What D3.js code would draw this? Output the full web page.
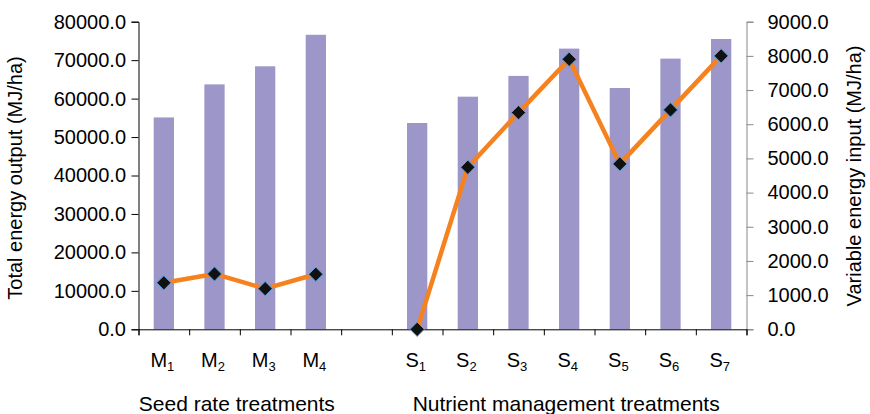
<!DOCTYPE html>
<html>
<head>
<meta charset="utf-8">
<script src="https://cdn.jsdelivr.net/npm/d3@7"></script>
<style>
body{margin:0;background:#fff;}
svg{display:block;font-family:"Liberation Sans",Arial,sans-serif;}
</style>
</head>
<body>
<div id="chart"></div>
<script>
(function(){

// categories (empty slot = gap between the two treatment groups)
const categories = ["M1","M2","M3","M4","","S1","S2","S3","S4","S5","S6","S7"];
const groups = [
  {label:"Seed rate treatments", from:"M1", to:"M4"},
  {label:"Nutrient management treatments", from:"S1", to:"S7"}
];
const totalOutput   = [55100,63700,68400,76600,null,53650,60500,65900,73000,62750,70400,75500];
const variableInput = [1360,1620,1190,1610,null,0,4740,6340,7900,4840,6420,8000];
const leftTicks  = d3.range(0,80001,10000);
const rightTicks = d3.range(0,9001,1000);

const width = 870;
const height = 414;
const margin = {top:21.7,right:123.5,bottom:84.7,left:138.5};

const svg = d3.select("#chart")
.append("svg")
.attr("width",width)
.attr("height",height);

const data = categories.map((c,i)=>({cat:c||"gap"+i, label:c, out:totalOutput[i], inp:variableInput[i]}));

const x = d3.scaleBand()
.domain(data.map(d=>d.cat))
.range([margin.left,width-margin.right])
.padding(0);

const xi = d3.scaleLinear()
.domain([0,categories.length])
.range([margin.left,width-margin.right]);

const yL = d3.scaleLinear()
.domain([0,80000])
.range([height-margin.bottom,margin.top]);

const yR = d3.scaleLinear()
.domain([0,9000])
.range([height-margin.bottom,margin.top]);

// bars
const bw = x.bandwidth()*0.4;
svg.selectAll("rect.bar")
.data(data.filter(d=>d.out!=null))
.enter()
.append("rect")
.attr("class","bar")
.attr("x",d=>x(d.cat)+x.bandwidth()/2-bw/2)
.attr("y",d=>yL(d.out))
.attr("width",bw)
.attr("height",d=>yL(0)-yL(d.out))
.attr("fill","#9c96c9");

// left axis
const gL = svg.append("g")
.attr("transform",`translate(${margin.left},0)`)
.call(d3.axisLeft(yL).tickValues(leftTicks).tickFormat(d3.format(".1f")).tickSizeOuter(0).tickSize(7).tickPadding(5.5));
gL.selectAll("line,path").attr("stroke","#000");
gL.selectAll("text").attr("font-size","20px").attr("fill","#000").attr("font-family","Liberation Sans, Arial, sans-serif");

// right axis
const gR = svg.append("g")
.attr("transform",`translate(${width-margin.right},0)`)
.call(d3.axisRight(yR).tickValues(rightTicks).tickFormat(d3.format(".1f")).tickSizeOuter(0).tickSize(7).tickPadding(14));
gR.selectAll("line,path").attr("stroke","#888");
gR.selectAll("text").attr("font-size","20px").attr("fill","#000").attr("font-family","Liberation Sans, Arial, sans-serif");

// x axis (ticks at slot boundaries)
const gX = svg.append("g")
.attr("transform",`translate(0,${height-margin.bottom})`)
.call(d3.axisBottom(xi).tickValues(d3.range(0,categories.length+1)).tickFormat("").tickSizeOuter(0).tickSize(6));
gX.selectAll("line,path").attr("stroke","#000");

// category labels with subscripts
const lab = svg.append("g")
.selectAll("text")
.data(data.filter(d=>d.label))
.enter()
.append("text")
.attr("x",d=>x(d.cat)+x.bandwidth()/2-1.5)
.attr("y",367)
.attr("text-anchor","middle")
.attr("font-size","20px")
.attr("fill","#000");
lab.append("tspan").text(d=>d.label[0]);
lab.append("tspan").attr("font-size","13px").attr("dy",4).text(d=>d.label.slice(1));

// group labels
svg.append("g")
.selectAll("text")
.data(groups)
.enter()
.append("text")
.attr("x",d=>(x(d.from)+x(d.to)+x.bandwidth())/2-3)
.attr("y",411)
.attr("text-anchor","middle")
.attr("font-size","21px")
.attr("fill","#000")
.text(d=>d.label);

// line (broken at the gap)
const line = d3.line()
.defined(d=>d.inp!=null)
.x(d=>x(d.cat)+x.bandwidth()/2)
.y(d=>yR(d.inp));

svg.append("path")
.datum(data)
.attr("d",line)
.attr("fill","none")
.attr("stroke","#f5821f")
.attr("stroke-width",4.5)
.attr("stroke-linejoin","round");

// diamond markers
svg.selectAll("path.mk")
.data(data.filter(d=>d.inp!=null))
.enter()
.append("path")
.attr("class","mk")
.attr("d",d3.symbol().type(d3.symbolDiamond2).size(130))
.attr("transform",d=>`translate(${x(d.cat)+x.bandwidth()/2},${yR(d.inp)})`)
.attr("fill","#111")
.attr("stroke","#5aa2dc")
.attr("stroke-width",1);

// y labels
svg.append("text")
.attr("transform","rotate(-90)")
.attr("x",-178)
.attr("y",22)
.attr("text-anchor","middle")
.attr("font-size","20px")
.attr("fill","#000")
.text("Total energy output (MJ/ha)");

svg.append("text")
.attr("transform","rotate(-90)")
.attr("x",-176)
.attr("y",861)
.attr("text-anchor","middle")
.attr("font-size","20px")
.attr("fill","#000")
.text("Variable energy input (MJ/ha)");

})();
</script>
</body>
</html>
